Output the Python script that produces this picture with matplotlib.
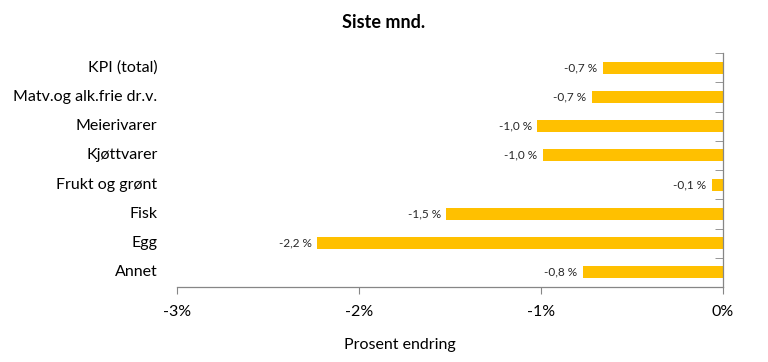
import matplotlib
matplotlib.use("Agg")
import matplotlib.pyplot as plt
from matplotlib.ticker import FixedLocator, FuncFormatter

categories = ["KPI (total)", "Matv.og alk.frie dr.v.", "Meierivarer", "Kjøttvarer",
              "Frukt og grønt", "Fisk", "Egg", "Annet"]
values = [-0.66, -0.72, -1.02, -0.99, -0.06, -1.52, -2.23, -0.77]
labels = ["-0,7 %", "-0,7 %", "-1,0 %", "-1,0 %", "-0,1 %", "-1,5 %", "-2,2 %", "-0,8 %"]
xticks = [-3, -2, -1, 0]

plt.rcParams["font.family"] = ["Lato", "DejaVu Sans"]

fig = plt.figure(figsize=(7.68, 3.62), dpi=100)
ax = fig.add_axes([177 / 768, 75 / 362, 546 / 768, 234 / 362])

ypos = list(range(len(categories)))
ax.barh(ypos, values, height=0.41, color="#FFC000")
for y, v, lab in zip(ypos, values, labels):
    ax.annotate(lab, (v, y), xytext=(-4, 0), textcoords="offset points",
                ha="right", va="center", fontsize=8.5, color="#262626")

ax.set_xlim(-3, 0)
ax.set_ylim(len(categories) - 0.5, -0.5)

# y axis sits at zero, ticks between categories
ax.spines["left"].set_visible(False)
ax.spines["top"].set_visible(False)
for s in ("right", "bottom"):
    ax.spines[s].set_color("#868686")
    ax.spines[s].set_linewidth(0.9)
ax.yaxis.set_ticks_position("right")
ax.set_yticks([])
ax.yaxis.set_minor_locator(FixedLocator([y - 0.5 for y in range(len(categories) + 1)]))
ax.tick_params(axis="y", which="minor", direction="in", length=6, color="#868686")
for y, c in zip(ypos, categories):
    ax.annotate(c, (0, y), xycoords=("axes fraction", "data"), xytext=(-14, 0),
                textcoords="offset points", ha="right", va="center",
                fontsize=11.5, color="#000000")

ax.set_xticks(xticks)
ax.xaxis.set_major_formatter(FuncFormatter(lambda x, p: f"{x:.0f}%"))
ax.tick_params(axis="x", direction="out", length=5, color="#868686", labelsize=11.5,
               pad=8, labelcolor="#000000")

fig.text(384 / 768, 1 - 22 / 362, "Siste mnd.", ha="center", va="center",
         fontsize=13, fontweight="bold")
fig.text(400 / 768, 1 - 345 / 362, "Prosent endring", ha="center", va="center",
         fontsize=11.5)

fig.savefig("out.png", dpi=100)
